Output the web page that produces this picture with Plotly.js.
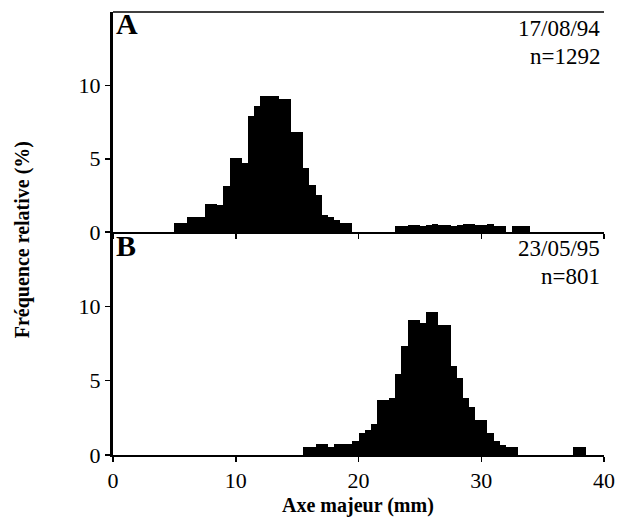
<!DOCTYPE html>
<html>
<head>
<meta charset="utf-8">
<script src="https://cdn.plot.ly/plotly-3.0.1.min.js"></script>
<style>html,body{margin:0;padding:0;background:#fff;}#chart{width:618px;height:527px;}</style>
</head>
<body>
<div id="chart"></div>
<script>
// Panel A (17/08/94, n=1292): left edges of 0.5 mm bins and relative frequency (%)
const binsA = [5.0,5.5,6.0,6.5,7.0,7.5,8.0,8.5,9.0,9.5,10.0,10.5,11.0,11.5,12.0,12.5,13.0,13.5,14.0,14.5,15.0,15.5,16.0,16.5,17.0,17.5,18.0,18.5,19.0,
               23.0,23.5,24.0,24.5,25.0,25.5,26.0,26.5,27.0,27.5,28.0,28.5,29.0,29.5,30.0,30.5,31.0,31.5,32.5,33.0,33.5];
const freqA = [0.6,0.6,1.05,1.05,1.05,1.95,1.95,1.85,3.15,5.05,5.05,4.7,7.9,8.6,9.25,9.25,9.25,9.1,9.1,6.8,6.8,4.4,3.2,2.55,1.2,1.0,0.8,0.6,0.6,
               0.45,0.45,0.5,0.5,0.45,0.5,0.55,0.5,0.5,0.45,0.5,0.55,0.55,0.5,0.5,0.55,0.45,0.45,0.4,0.45,0.45];
// Panel B (23/05/95, n=801)
const binsB = [15.5,16.0,16.5,17.0,17.5,18.0,18.5,19.0,19.5,20.0,20.5,21.0,21.5,22.0,22.5,23.0,23.5,24.0,24.5,25.0,25.5,26.0,26.5,27.0,27.5,28.0,28.5,29.0,29.5,30.0,30.5,31.0,31.5,32.0,32.5,37.5,38.0];
const freqB = [0.55,0.55,0.75,0.75,0.55,0.72,0.72,0.72,0.97,1.46,1.69,2.1,3.7,3.72,3.83,5.45,7.32,9.08,9.08,8.9,9.62,9.62,8.72,8.72,5.97,5.18,3.83,3.22,2.36,2.36,1.46,0.97,0.68,0.52,0.52,0.52,0.52];

const xTicks = [0,10,20,30,40];
const yTicks = [0,5,10];
const panelLabels = ['A','B'];
const dateLabels = ['17/08/94','23/05/95'];
const nLabels = ['n=1292','n=801'];
const xTitle = 'Axe majeur (mm)';
const yTitle = 'Fréquence relative (%)';

const serif = 'Liberation Serif, Times New Roman, serif';
const tickFont = {family: serif, size: 22, color: '#000'};

const traces = [
  {type:'bar', x: binsA, y: freqA, width: 0.5, offset: 0, xaxis:'x', yaxis:'y',
   marker:{color:'#000', line:{width:0}}, hoverinfo:'x+y'},
  {type:'bar', x: binsB, y: freqB, width: 0.5, offset: 0, xaxis:'x2', yaxis:'y2',
   marker:{color:'#000', line:{width:0}}, hoverinfo:'x+y'}
];

const split = 0.503;
const common = {range:[0,40], tickvals:xTicks, ticks:'outside', ticklen:5, tickwidth:1.5, tickcolor:'#000',
  showline:true, linecolor:'#000', linewidth:2, showgrid:false, zeroline:false, tickfont:tickFont};
const ycommon = {range:[0,15], tickvals:yTicks, ticks:'outside', ticklen:5, tickwidth:1.5, tickcolor:'#000',
  showline:true, linecolor:'#000', linewidth:3, showgrid:false, zeroline:false, tickfont:tickFont};

const layout = {
  width:618, height:527,
  margin:{l:113, r:14, t:12, b:72},
  paper_bgcolor:'#fff', plot_bgcolor:'#fff',
  showlegend:false, bargap:0,
  xaxis: Object.assign({}, common, {anchor:'y', domain:[0,1], showticklabels:false}),
  xaxis2: Object.assign({}, common, {anchor:'y2', domain:[0,1]}),
  yaxis: Object.assign({}, ycommon, {domain:[split,1]}),
  yaxis2: Object.assign({}, ycommon, {domain:[0,split]}),
  shapes:[
    {type:'line', xref:'paper', yref:'paper', x0:0, x1:1, y0:1, y1:1, line:{color:'#000', width:1.5}}
  ],
  annotations:[
    {text:'<b>'+panelLabels[0]+'</b>', xref:'paper', yref:'paper', x:0.003, y:0.973, xanchor:'left', yanchor:'middle', showarrow:false, font:{family:serif, size:30, color:'#000'}},
    {text:'<b>'+panelLabels[1]+'</b>', xref:'paper', yref:'paper', x:0.003, y:0.4725, xanchor:'left', yanchor:'middle', showarrow:false, font:{family:serif, size:30, color:'#000'}},
    {text:dateLabels[0], xref:'paper', yref:'paper', x:0.996, y:0.963, xanchor:'right', yanchor:'middle', showarrow:false, font:{family:serif, size:23, color:'#000'}},
    {text:nLabels[0], xref:'paper', yref:'paper', x:0.996, y:0.900, xanchor:'right', yanchor:'middle', showarrow:false, font:{family:serif, size:23, color:'#000'}},
    {text:dateLabels[1], xref:'paper', yref:'paper', x:0.996, y:0.466, xanchor:'right', yanchor:'middle', showarrow:false, font:{family:serif, size:23, color:'#000'}},
    {text:nLabels[1], xref:'paper', yref:'paper', x:0.996, y:0.403, xanchor:'right', yanchor:'middle', showarrow:false, font:{family:serif, size:23, color:'#000'}},
    {text:'<b>'+xTitle+'</b>', xref:'paper', yref:'paper', x:0.499, y:-0.113, xanchor:'center', yanchor:'middle', showarrow:false, font:{family:serif, size:20, color:'#000'}},
    {text:'<b>'+yTitle+'</b>', xref:'paper', yref:'paper', x:-0.185, y:0.485, xanchor:'center', yanchor:'middle', textangle:-90, showarrow:false, font:{family:serif, size:20, color:'#000'}}
  ]
};

Plotly.newPlot('chart', traces, layout, {displayModeBar:false, staticPlot:true});
</script>
</body>
</html>
